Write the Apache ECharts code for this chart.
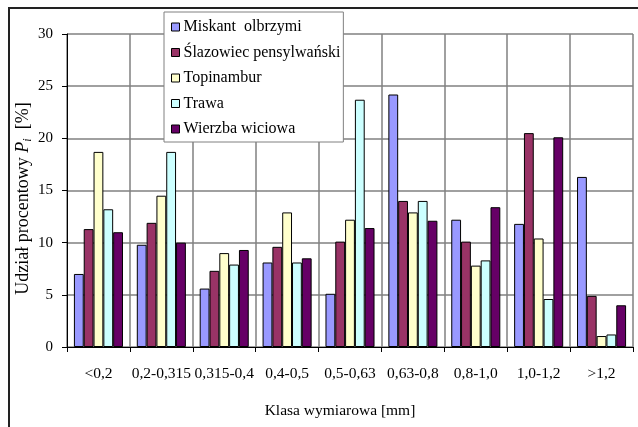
<!DOCTYPE html>
<html>
<head>
<meta charset="utf-8">
<script src="https://cdn.jsdelivr.net/npm/echarts@6/dist/echarts.min.js"></script>
<style>
html,body{margin:0;padding:0;background:#fff;}
#chart{width:638px;height:427px;}
</style>
</head>
<body>
<div id="chart"></div>
<script>
const categories = ['<0,2','0,2-0,315','0,315-0,4','0,4-0,5','0,5-0,63','0,63-0,8','0,8-1,0','1,0-1,2','>1,2'];
const seriesNames = ['Miskant  olbrzymi','Ślazowiec pensylwański','Topinambur','Trawa','Wierzba wiciowa'];
const miskant    = [7.0, 9.8, 5.6, 8.1, 5.1, 24.2, 12.2, 11.8, 16.3];
const slazowiec  = [11.3, 11.9, 7.3, 9.6, 10.1, 14.0, 10.1, 20.5, 4.9];
const topinambur = [18.7, 14.5, 9.0, 12.9, 12.2, 12.9, 7.8, 10.4, 1.05];
const trawa      = [13.2, 18.7, 7.9, 8.1, 23.7, 14.0, 8.3, 4.6, 1.2];
const wierzba    = [11.0, 10.0, 9.3, 8.5, 11.4, 12.1, 13.4, 20.1, 4.0];
const yTicks = [0, 5, 10, 15, 20, 25, 30];

const values = [miskant, slazowiec, topinambur, trawa, wierzba];
const colors = ['#9999FF', '#993366', '#FFFFCC', '#CCFFFF', '#660066'];
const font = 'Liberation Serif';

const chart = echarts.init(document.getElementById('chart'), null, {renderer: 'canvas'});
chart.setOption({
  animation: false,
  backgroundColor: '#fff',
  textStyle: {fontFamily: font},
  grid: {left: 67, right: 5, top: 34, bottom: 80, containLabel: false},
  legend: {
    orient: 'vertical',
    left: 164, top: 12,
    backgroundColor: '#fff',
    borderColor: '#808080', borderWidth: 1,
    padding: [7, 3, 5, 7],
    itemWidth: 8, itemHeight: 8,
    itemGap: 9.5,
    icon: 'rect',
    itemStyle: {borderColor: '#000', borderWidth: 1},
    textStyle: {fontFamily: font, fontSize: 16, color: '#000', lineHeight: 16, padding: [0, 0, 0, -1]},
    data: seriesNames
  },
  xAxis: {
    type: 'category',
    data: categories,
    boundaryGap: true,
    axisLine: {show: true, lineStyle: {color: '#000', width: 1}},
    axisTick: {show: true, alignWithLabel: false, length: 5, lineStyle: {color: '#000'}},
    axisLabel: {fontFamily: font, fontSize: 15.5, color: '#000', margin: 19, interval: 0},
    splitLine: {show: true, lineStyle: {color: '#808080', width: 1.5}},
    name: 'Klasa wymiarowa [mm]',
    nameLocation: 'middle',
    nameGap: 56,
    nameMoveOverlap: false,
    nameTextStyle: {fontFamily: font, fontSize: 15.5, color: '#000', padding: [0, 20, 0, 0]}
  },
  yAxis: {
    type: 'value',
    min: yTicks[0], max: yTicks[yTicks.length - 1], interval: yTicks[1] - yTicks[0],
    axisLine: {show: true, lineStyle: {color: '#000', width: 1}},
    axisTick: {show: true, length: 5, lineStyle: {color: '#000'}},
    axisLabel: {fontFamily: font, fontSize: 15, color: '#000', margin: 14},
    splitLine: {show: true, lineStyle: {color: '#808080', width: 1.5}},
    name: 'Udział procentowy {it|P}{sub|i}  [%]',
    nameLocation: 'middle',
    nameGap: 33,
    nameMoveOverlap: false,
    nameRotate: 90,
    nameTextStyle: {
      fontFamily: font, fontSize: 18, color: '#000',
      padding: [0, 16, 0, 0],
      rich: {
        it: {fontFamily: font, fontSize: 18, fontStyle: 'italic', color: '#000'},
        sub: {fontFamily: font, fontSize: 12, fontStyle: 'italic', color: '#000', verticalAlign: 'bottom', padding: [9, 0, 0, 0]}
      }
    }
  },
  series: seriesNames.map((n, i) => ({
    name: n,
    type: 'bar',
    data: values[i],
    barGap: '0%',
    barCategoryGap: '22%',
    itemStyle: {color: colors[i], borderColor: '#000', borderWidth: 1}
  })),
  graphic: [{
    type: 'rect',
    shape: {x: 9, y: 8, width: 700, height: 500},
    style: {fill: 'none', stroke: '#222', lineWidth: 2},
    silent: true,
    z: 100
  }]
});
</script>
</body>
</html>
